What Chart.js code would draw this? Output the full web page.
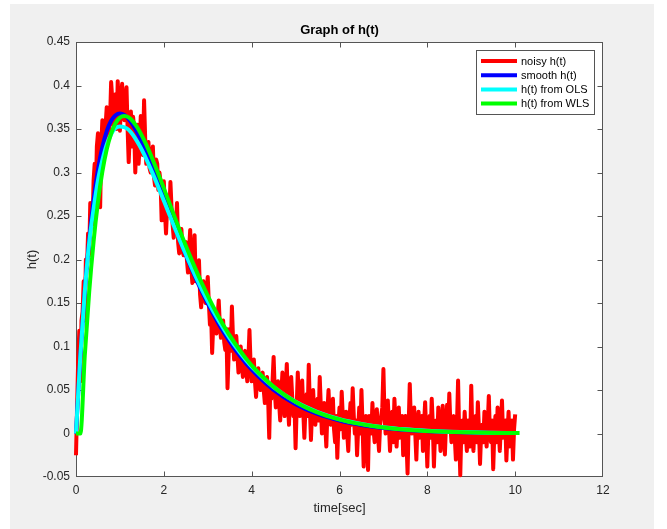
<!DOCTYPE html>
<html>
<head>
<meta charset="utf-8">
<script src="https://cdn.jsdelivr.net/npm/chart.js@4.4.1/dist/chart.umd.min.js"></script>
<style>
  html, body { margin: 0; padding: 0; background: #fff; }
  #fig { position: absolute; left: 10px; top: 4px; width: 644px; height: 525px; background: #f0f0f0; }
  #c { position: absolute; left: 0; top: 0; }
</style>
</head>
<body>
<div id="fig"></div>
<canvas id="c" width="667" height="529"></canvas>
<script>
// tick labels
const xTicks = [0, 2, 4, 6, 8, 10, 12];
const yTicks = [-0.05, 0, 0.05, 0.1, 0.15, 0.2, 0.25, 0.3, 0.35, 0.4, 0.45];
const yTickLabels = ['-0.05', '0', '0.05', '0.1', '0.15', '0.2', '0.25', '0.3', '0.35', '0.4', '0.45'];

// noisy h(t), sampled every 0.025 s from 0 to 10 (one row = 0.5 s)
const tStep = 0.025;
const noisyH = [
  -0.025, 0.03, 0.085, 0.118, 0.06, 0.13, 0.14, 0.175, 0.13, 0.2, 0.19, 0.23, 0.205, 0.265, 0.25, 0.24, 0.29, 0.31, 0.275, 0.33,
  0.345, 0.30, 0.26, 0.33, 0.36, 0.34, 0.325, 0.355, 0.375, 0.34, 0.345, 0.36, 0.404, 0.385, 0.355, 0.37, 0.39, 0.35, 0.405, 0.375,
  0.348, 0.38, 0.402, 0.37, 0.36, 0.385, 0.398, 0.35, 0.312, 0.345, 0.37, 0.33, 0.364, 0.35, 0.30, 0.335, 0.355, 0.31, 0.33, 0.365,
  0.35, 0.32, 0.383, 0.34, 0.31, 0.33, 0.335, 0.305, 0.30, 0.32, 0.33, 0.295, 0.285, 0.315, 0.31, 0.28, 0.30, 0.29, 0.245, 0.275,
  0.29, 0.255, 0.23, 0.26, 0.27, 0.25, 0.289, 0.26, 0.24, 0.225, 0.25, 0.24, 0.265, 0.22, 0.207, 0.225, 0.235, 0.21, 0.205, 0.22,
  0.22, 0.2, 0.185, 0.21, 0.234, 0.19, 0.173, 0.2, 0.228, 0.175, 0.19, 0.18, 0.199, 0.16, 0.145, 0.17, 0.175, 0.16, 0.15, 0.165,
  0.18, 0.15, 0.125, 0.14, 0.0925, 0.125, 0.14, 0.12, 0.115, 0.135, 0.153, 0.125, 0.11, 0.12, 0.13, 0.105, 0.096, 0.12, 0.052, 0.09,
  0.12, 0.095, 0.146, 0.11, 0.085, 0.1, 0.112, 0.09, 0.07, 0.095, 0.10, 0.08, 0.065, 0.09, 0.095, 0.075, 0.06, 0.085, 0.119, 0.08,
  0.06, 0.075, 0.085, 0.06, 0.042, 0.065, 0.075, 0.055, 0.05, 0.065, 0.07, 0.05, 0.035, 0.06, 0.065, 0.04, -0.005, 0.055, 0.04, 0.06,
  0.088, 0.05, 0.03, 0.045, 0.06, 0.035, 0.015, 0.045, 0.07, 0.04, 0.02, 0.05, 0.08, 0.035, 0.01, 0.05, 0.065, 0.04, 0.02, 0.035,
  -0.017, 0.03, 0.07, 0.035, 0.02, 0.04, 0.061, 0.025, -0.005, 0.03, 0.045, 0.02, 0.079, 0.03, -0.0075, 0.025, 0.05, 0.02, 0.01, 0.035,
  0.04, 0.015, 0.065, 0.03, 0.0, 0.02, 0.035, 0.01, -0.015, 0.025, 0.05, 0.02, 0.01, 0.03, 0.04, 0.005, -0.01, 0.02, -0.028, 0.01,
  0.03, 0.005, 0.048, 0.02, -0.005, 0.015, 0.025, 0.0, -0.02, 0.015, 0.035, 0.01, 0.052, 0.02, 0.0, 0.015, -0.025, 0.005, 0.03, 0.0,
  0.05, 0.01, -0.038, 0.0, 0.02, -0.005, -0.042, 0.02, 0.015, 0.0, 0.035, 0.005, -0.01, 0.015, 0.028, 0.0, -0.02, 0.01, 0.02, 0.03,
  0.074, 0.02, 0.0, 0.015, 0.038, 0.01, -0.02, 0.005, 0.025, -0.01, 0.04, 0.015, -0.015, 0.01, 0.03, -0.005, 0.005, 0.02, -0.025, 0.01,
  0.02, -0.01, -0.046, 0.01, 0.057, 0.015, 0.0, 0.02, 0.03, 0.0, -0.03, 0.01, 0.025, -0.005, 0.01, 0.02, -0.02, 0.01, 0.036, 0.0,
  -0.038, 0.005, 0.02, -0.005, 0.04, 0.01, -0.038, 0.0, 0.015, -0.01, 0.03, 0.01, -0.02, 0.005, 0.032, 0.0, -0.024, 0.01, 0.033, 0.005,
  0.046, 0.01, -0.01, 0.015, 0.02, -0.005, -0.03, 0.01, 0.061, 0.0, -0.048, 0.005, 0.015, -0.01, 0.025, 0.0, -0.02, 0.015, 0.01, -0.015,
  0.055, 0.0, -0.02, 0.01, 0.02, -0.01, 0.036, 0.005, -0.035, 0.0, 0.01, -0.01, 0.025, 0.005, -0.015, 0.01, 0.043, 0.0, -0.01, 0.015,
  -0.041, 0.0, 0.02, -0.01, 0.03, 0.005, -0.02, 0.01, 0.038, -0.005, 0.005, 0.015, -0.031, 0.0, 0.025, -0.015, -0.01, 0.015, -0.03, 0.005,
  0.022
];

// smooth curves
const tSmooth = [0, 0.1, 0.2, 0.3, 0.4, 0.5, 0.6, 0.7, 0.8, 0.9, 1, 1.1, 1.2, 1.3, 1.4, 1.5, 1.6, 1.7, 1.8, 1.9, 2,
  2.25, 2.5, 2.75, 3, 3.25, 3.5, 3.75, 4, 4.5, 5, 5.5, 6, 6.5, 7, 7.5, 8, 8.5, 9, 9.5, 10];
const smoothH = [0, 0.0905, 0.1637, 0.2222, 0.2681, 0.3033, 0.3293, 0.3476, 0.3595, 0.3659, 0.3679, 0.3662, 0.3614,
  0.3543, 0.3452, 0.3347, 0.3230, 0.3105, 0.2975, 0.2842, 0.2707,
  0.2371, 0.2052, 0.1758, 0.1494, 0.1260, 0.1057, 0.0882, 0.0733,
  0.0500, 0.0337, 0.0225, 0.0149, 0.0098, 0.0064, 0.0041, 0.0027, 0.0017, 0.0011, 0.0007, 0.0005];
const olsH = [0, 0.090, 0.163, 0.219, 0.258, 0.291, 0.314, 0.332, 0.344, 0.351, 0.353, 0.352, 0.349,
  0.343, 0.335, 0.326, 0.3155, 0.3042, 0.2924, 0.2800, 0.2676,
  0.2363, 0.2060, 0.1777, 0.1522, 0.1295, 0.1093, 0.0919, 0.0769,
  0.0533, 0.0364, 0.0247, 0.0166, 0.0111, 0.0073, 0.0048, 0.0032, 0.0021, 0.0013, 0.0009, 0.0006];

// WLS fit starts a little later (delay of 0.1 s)
const tWls = [0, 0.1, 0.2, 0.3, 0.4, 0.5, 0.6, 0.7, 0.8, 0.9, 1, 1.1, 1.2, 1.3, 1.4, 1.5, 1.6, 1.7, 1.8, 1.9, 2, 2.1,
  2.35, 2.6, 2.85, 3.1, 3.35, 3.6, 3.85, 4.1, 4.6, 5.1, 5.6, 6.1, 6.6, 7.1, 7.6, 8.1, 8.6, 9.1, 9.6, 10.1];
const wlsH = [0, 0, 0.0898, 0.1624, 0.2204, 0.2660, 0.3009, 0.3267, 0.3448, 0.3566, 0.3630, 0.3650, 0.3633,
  0.3585, 0.3515, 0.3424, 0.3320, 0.3204, 0.3080, 0.2951, 0.2819, 0.2685,
  0.2352, 0.2036, 0.1744, 0.1482, 0.1250, 0.1049, 0.0875, 0.0727,
  0.0496, 0.0334, 0.0223, 0.0148, 0.0097, 0.0063, 0.0041, 0.0027, 0.0017, 0.0011, 0.0007, 0.0005];

const FONT = '"Liberation Sans", Arial, Helvetica, sans-serif';
const AXIS_COLOR = '#555555';
const TEXT_COLOR = '#262626';

function pts(xs, ys) {
  return ys.map((y, i) => ({ x: xs[i], y: y }));
}
const tNoisy = noisyH.map((_, i) => i * tStep);

// white plot area, box with inward ticks, title and the legend box
const matlabAxes = {
  id: 'matlabAxes',
  beforeDraw(chart) {
    const { ctx, chartArea: a } = chart;
    ctx.save();
    ctx.fillStyle = '#ffffff';
    ctx.fillRect(a.left, a.top, a.right - a.left, a.bottom - a.top);
    ctx.restore();
  },
  beforeDatasetsDraw(chart) {
    const { ctx, chartArea: a, scales } = chart;
    const L = Math.round(a.left) + 0.5, R = Math.round(a.right) - 0.5;
    const T = Math.round(a.top) + 0.5, B = Math.round(a.bottom) - 0.5;
    const clamp = (v, lo, hi) => Math.min(hi, Math.max(lo, v));
    ctx.save();
    ctx.strokeStyle = AXIS_COLOR;
    ctx.lineWidth = 1;
    ctx.strokeRect(L, T, R - L, B - T);
    ctx.beginPath();
    xTicks.forEach(v => {
      const px = clamp(Math.round(scales.x.getPixelForValue(v)) + 0.5, L, R);
      ctx.moveTo(px, B); ctx.lineTo(px, B - 5);
      ctx.moveTo(px, T); ctx.lineTo(px, T + 5);
    });
    yTicks.forEach(v => {
      const py = clamp(Math.round(scales.y.getPixelForValue(v)) + 0.5, T, B);
      ctx.moveTo(L, py); ctx.lineTo(L + 5, py);
      ctx.moveTo(R, py); ctx.lineTo(R - 5, py);
    });
    ctx.stroke();
    ctx.restore();
  },
  afterDraw(chart) {
    const { ctx, chartArea: a } = chart;
    ctx.save();
    // title
    ctx.fillStyle = '#000000';
    ctx.font = 'bold 13px ' + FONT;
    ctx.textAlign = 'center';
    ctx.textBaseline = 'middle';
    ctx.fillText('Graph of h(t)', (a.left + a.right) / 2, 30);

    // legend
    const bx = 476.5, by = 50.5, bw = 118, bh = 64;
    ctx.fillStyle = '#ffffff';
    ctx.fillRect(bx, by, bw, bh);
    ctx.strokeStyle = AXIS_COLOR;
    ctx.lineWidth = 1;
    ctx.strokeRect(bx, by, bw, bh);
    ctx.font = '11px ' + FONT;
    ctx.textAlign = 'left';
    chart.data.datasets.forEach((ds, i) => {
      const y = 61 + i * 14.2;
      ctx.strokeStyle = ds.borderColor;
      ctx.lineWidth = 4;
      ctx.beginPath();
      ctx.moveTo(481, y);
      ctx.lineTo(517, y);
      ctx.stroke();
      ctx.fillStyle = '#000000';
      ctx.fillText(ds.label, 521, y + 0.5);
    });
    ctx.restore();
  }
};

const lineStyle = {
  pointRadius: 0,
  borderWidth: 4,
  fill: false,
  clip: false,
  borderJoinStyle: 'round'
};

new Chart(document.getElementById('c'), {
  type: 'line',
  data: {
    datasets: [
      Object.assign({ label: 'noisy h(t)', data: pts(tNoisy, noisyH), borderColor: '#ff0000', tension: 0, order: 4 }, lineStyle),
      Object.assign({ label: 'smooth h(t)', data: pts(tSmooth, smoothH), borderColor: '#0000ff', cubicInterpolationMode: 'monotone', order: 3 }, lineStyle),
      Object.assign({ label: 'h(t) from OLS', data: pts(tSmooth, olsH), borderColor: '#00ffff', cubicInterpolationMode: 'monotone', order: 2 }, lineStyle),
      Object.assign({ label: 'h(t) from WLS', data: pts(tWls, wlsH), borderColor: '#00ff00', cubicInterpolationMode: 'monotone', order: 1, borderWidth: 4.5 }, lineStyle)
    ]
  },
  options: {
    responsive: false,
    animation: false,
    events: [],
    layout: { padding: { top: 42, right: 64, left: 0, bottom: 0 } },
    plugins: {
      legend: { display: false },
      title: { display: false },
      tooltip: { enabled: false }
    },
    scales: {
      x: {
        type: 'linear',
        min: 0,
        max: 12,
        grid: { display: false, drawTicks: false },
        border: { display: false },
        afterBuildTicks: s => { s.ticks = xTicks.map(v => ({ value: v })); },
        afterFit: s => { s.height = 52; },
        ticks: {
          padding: 6,
          color: TEXT_COLOR,
          font: { family: FONT, size: 12 },
          maxRotation: 0,
          autoSkip: false,
          callback: v => String(v)
        },
        title: {
          display: true,
          text: 'time[sec]',
          color: TEXT_COLOR,
          font: { family: FONT, size: 13 },
          padding: { top: 0, bottom: 13 }
        }
      },
      y: {
        type: 'linear',
        min: -0.05,
        max: 0.45,
        grid: { display: false, drawTicks: false },
        border: { display: false },
        afterBuildTicks: s => { s.ticks = yTicks.map(v => ({ value: v })); },
        afterFit: s => { s.width = 76; },
        ticks: {
          padding: 6,
          color: TEXT_COLOR,
          font: { family: FONT, size: 12 },
          autoSkip: false,
          callback: (v, i) => yTickLabels[i]
        },
        title: {
          display: true,
          text: 'h(t)',
          color: TEXT_COLOR,
          font: { family: FONT, size: 13 },
          padding: { top: 25, bottom: 0 }
        }
      }
    }
  },
  plugins: [matlabAxes]
});
</script>
</body>
</html>
